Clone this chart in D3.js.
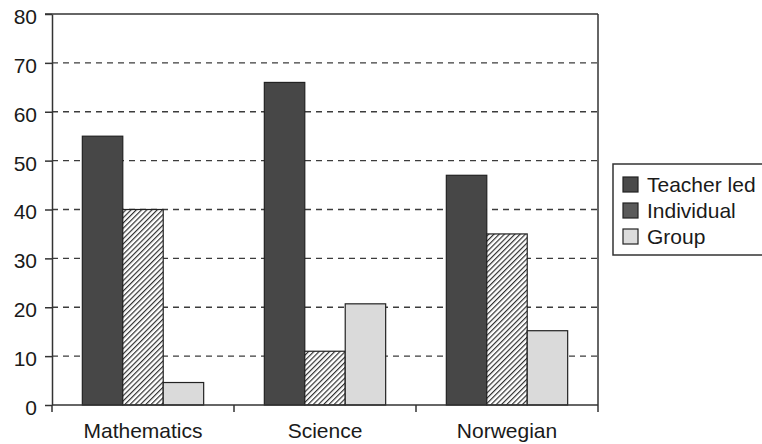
<!DOCTYPE html>
<html>
<head>
<meta charset="utf-8">
<script src="https://cdn.jsdelivr.net/npm/d3@7"></script>
<style>
  html, body { margin: 0; padding: 0; background: #fff; }
  svg { display: block; font-family: "Liberation Sans", Arial, sans-serif; }
</style>
</head>
<body>
<svg id="chart" width="762" height="444"></svg>
<script>
// Subjects along the x axis
const categories = ["Mathematics", "Science", "Norwegian"];
// Working forms (one bar per subject each)
const seriesNames = ["Teacher led", "Individual", "Group"];
// Percent of lesson time per working form
const teacherLed = [55, 66, 47];
const individual = [40, 11, 35];
const group = [4.6, 20.7, 15.2];
// Y axis ticks
const yTicks = [0, 10, 20, 30, 40, 50, 60, 70, 80];

const seriesValues = [teacherLed, individual, group];

const svg = d3.select("#chart");
const margin = { left: 52, right: 164, top: 14, bottom: 39 };
const W = 762, H = 444;
const plotL = margin.left, plotR = W - margin.right;
const plotT = margin.top, plotB = H - margin.bottom;

const defs = svg.append("defs");
defs.append("pattern")
  .attr("id", "hatch")
  .attr("patternUnits", "userSpaceOnUse")
  .attr("width", 3.7).attr("height", 3.7)
  .attr("patternTransform", "rotate(45)")
  .call(p => {
    p.append("rect").attr("width", 3.7).attr("height", 3.7).attr("fill", "#fff");
    p.append("line").attr("x1", 0.6).attr("y1", 0).attr("x2", 0.6).attr("y2", 3.7)
      .attr("stroke", "#2a2a2a").attr("stroke-width", 1.15);
  });

const fills = ["#474747", "url(#hatch)", "#dadada"];
const swatchFills = ["#4a4a4a", "#5a5a5a", "#dcdcdc"];

const y = d3.scaleLinear().domain([0, 80]).range([plotB, plotT]);
const x0 = d3.scaleBand().domain(categories).range([plotL, plotR]).padding(0);
const x1 = d3.scaleBand().domain(seriesNames).range([0, x0.bandwidth()])
  .paddingInner(0).paddingOuter(0.75);

// Dashed gridlines
svg.append("g").selectAll("line")
  .data(yTicks.filter(t => t > 0 && t < 80))
  .join("line")
  .attr("x1", plotL).attr("x2", plotR)
  .attr("y1", d => y(d)).attr("y2", d => y(d))
  .attr("stroke", "#3c3c3c").attr("stroke-width", 1.3)
  .attr("stroke-dasharray", "6,5");

// Bars
const rows = [];
categories.forEach((c, ci) => {
  seriesNames.forEach((s, si) => rows.push({ c, s, si, v: seriesValues[si][ci] }));
});
svg.append("g").selectAll("rect")
  .data(rows)
  .join("rect")
  .attr("x", d => x0(d.c) + x1(d.s))
  .attr("y", d => y(d.v))
  .attr("width", x1.bandwidth())
  .attr("height", d => y(0) - y(d.v))
  .attr("fill", d => fills[d.si])
  .attr("stroke", "#222").attr("stroke-width", 1.2);

// Frame: top and right edges
svg.append("line").attr("x1", plotL - 7).attr("x2", plotR)
  .attr("y1", plotT).attr("y2", plotT)
  .attr("stroke", "#333").attr("stroke-width", 1.5);
svg.append("line").attr("x1", plotR).attr("x2", plotR)
  .attr("y1", plotT).attr("y2", plotB)
  .attr("stroke", "#333").attr("stroke-width", 1.5);

// Y axis
const yAxis = svg.append("g")
  .attr("transform", `translate(${plotL},0)`)
  .call(d3.axisLeft(y).tickValues(yTicks).tickSize(7).tickPadding(8).tickSizeOuter(0));
yAxis.select(".domain").attr("stroke", "#333").attr("stroke-width", 1.5);
yAxis.selectAll(".tick line").attr("stroke", "#333").attr("stroke-width", 1.5);
yAxis.selectAll(".tick text")
  .attr("font-size", 21).attr("fill", "#1a1a1a")
  .attr("font-family", "'Liberation Sans', Arial, sans-serif")
  .attr("dy", "0.45em");

// X axis: line with ticks at category boundaries
const xAxisG = svg.append("g");
xAxisG.append("line").attr("x1", plotL).attr("x2", plotR)
  .attr("y1", plotB).attr("y2", plotB)
  .attr("stroke", "#333").attr("stroke-width", 1.5);
const boundaries = [plotL].concat(categories.map(c => x0(c) + x0.bandwidth()));
xAxisG.selectAll("line.tk")
  .data(boundaries)
  .join("line").attr("class", "tk")
  .attr("x1", d => d).attr("x2", d => d)
  .attr("y1", plotB).attr("y2", plotB + 7)
  .attr("stroke", "#333").attr("stroke-width", 1.5);
xAxisG.selectAll("text")
  .data(categories)
  .join("text")
  .attr("x", d => x0(d) + x0.bandwidth() / 2)
  .attr("y", plotB + 33)
  .attr("text-anchor", "middle")
  .attr("font-size", 21).attr("fill", "#1a1a1a")
  .text(d => d);

// Legend (its box runs past the right edge of the canvas)
const lg = svg.append("g").attr("transform", "translate(613,164)");
lg.append("rect").attr("x", 0).attr("y", 0).attr("width", 180).attr("height", 91)
  .attr("fill", "#fff").attr("stroke", "#333").attr("stroke-width", 1.5);
const items = lg.selectAll("g.item")
  .data(seriesNames)
  .join("g").attr("class", "item")
  .attr("transform", (d, i) => `translate(10,${13 + i * 26})`);
items.append("rect").attr("width", 15).attr("height", 15)
  .attr("fill", (d, i) => swatchFills[i])
  .attr("stroke", "#222").attr("stroke-width", 1.2);
items.append("text").attr("x", 24).attr("y", 7.5).attr("dy", "0.36em")
  .attr("font-size", 21).attr("fill", "#1a1a1a")
  .text(d => d);
</script>
</body>
</html>
